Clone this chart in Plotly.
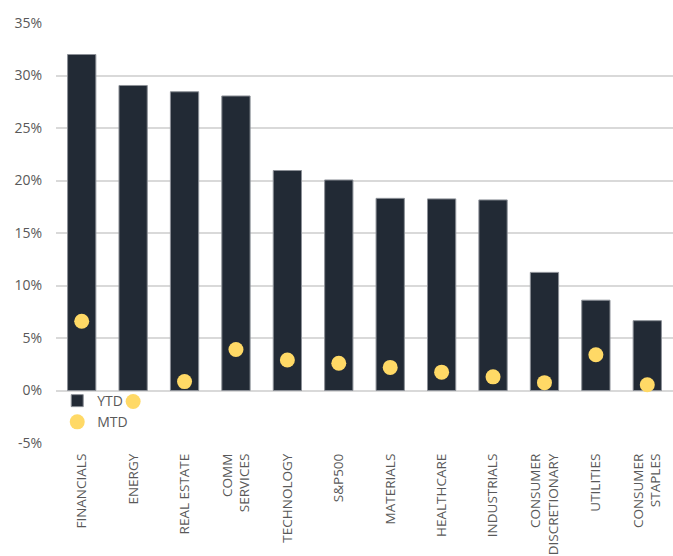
import plotly.graph_objects as go

categories = ["FINANCIALS", "ENERGY", "REAL ESTATE", "COMM<br>SERVICES", "TECHNOLOGY",
              "S&P500", "MATERIALS", "HEALTHCARE", "INDUSTRIALS",
              "CONSUMER<br>DISCRETIONARY", "UTILITIES", "CONSUMER<br>STAPLES"]
ytd = [32.0, 29.05, 28.45, 28.05, 20.95, 20.05, 18.3, 18.25, 18.15, 11.25, 8.6, 6.65]
mtd = [6.6, -1.05, 0.85, 3.9, 2.9, 2.6, 2.2, 1.75, 1.3, 0.75, 3.4, 0.55]
y_ticks = [-5, 0, 5, 10, 15, 20, 25, 30, 35]

fig = go.Figure()
fig.add_trace(go.Bar(
    x=categories, y=ytd, name="YTD",
    marker=dict(color="#222a35", line=dict(color="#8c9097", width=1)),
))
fig.add_trace(go.Scatter(
    x=categories, y=mtd, name="MTD", mode="markers",
    marker=dict(color="#ffd966", size=15, line=dict(width=0)),
))

fig.update_layout(
    width=673, height=556,
    margin=dict(l=56, r=0, t=23, b=113),
    paper_bgcolor="white", plot_bgcolor="white",
    bargap=0.45,
    font=dict(family="Open Sans", color="#595959"),
    showlegend=True,
    legend=dict(x=0.002, y=0.138, xanchor="left", yanchor="top",
                bgcolor="rgba(0,0,0,0)", font=dict(size=14, color="#595959"),
                itemwidth=30, tracegroupgap=0),
    xaxis=dict(range=[-0.5, 11.5], tickangle=-90,
               tickfont=dict(size=13.5, color="#595959"),
               showgrid=False, showline=False, ticks="", ticklabelstandoff=7),
    yaxis=dict(range=[-5, 35], tickvals=y_ticks,
               ticktext=[f"{v}%" for v in y_ticks],
               tickfont=dict(size=14, color="#595959"),
               showgrid=True, gridcolor="#d9d9d9", gridwidth=1.5,
               zeroline=True, zerolinecolor="#d9d9d9", zerolinewidth=1.5,
               showline=False, ticks="", ticklabelstandoff=13),
)

fig.write_html("out.html")
